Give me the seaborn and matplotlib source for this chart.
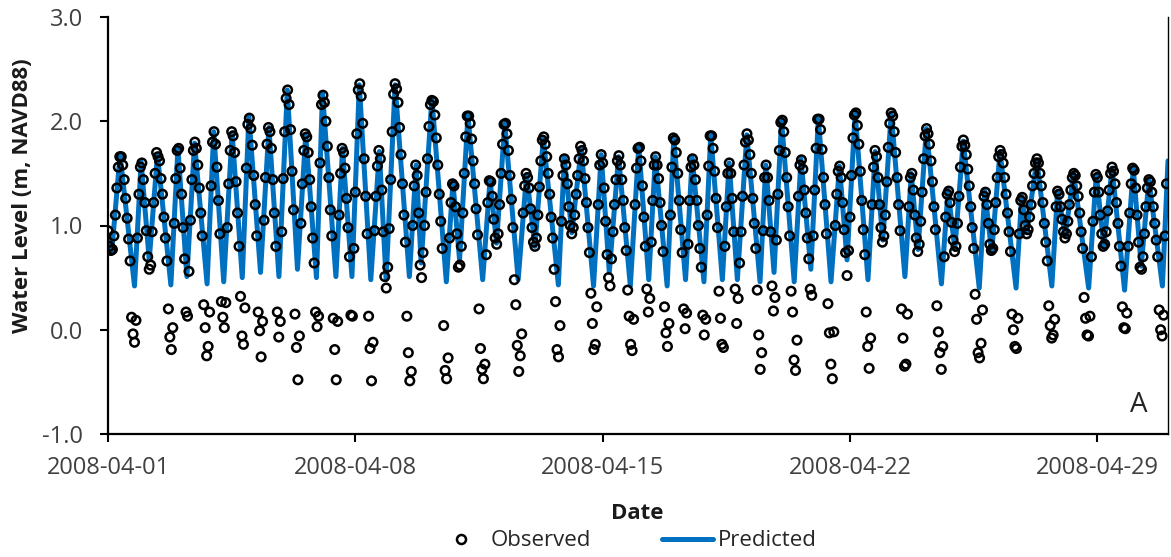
import numpy as np
import pandas as pd
import matplotlib
matplotlib.use('Agg')
import matplotlib.pyplot as plt
import matplotlib.dates as mdates
from matplotlib.ticker import FormatStrFormatter
from matplotlib.lines import Line2D
import seaborn as sns

start = pd.Timestamp('2008-04-01')

# predicted tide: turning points (hours since 2008-04-01 00:00, metres NAVD88)
pred_hours = [0, 2.5, 8.2, 18.0, 22.5, 28.0, 33.6, 42.7, 47.5, 53.6,
              58.8, 67.3, 71.8, 78.6, 84.3, 91.2, 95.7, 103.6, 109.3, 116.1,
              121.8, 128.7, 134.3, 141.6, 145.7, 154.8, 159.3, 165.7, 170.7, 178.5,
              184.3, 188.9, 195.0, 204.7, 209.3, 212.7, 220.0, 229.8, 234.3, 238.8,
              244.5, 254.5, 259.5, 263.9, 269.5, 278.6, 284.3, 290.0, 295.7, 305.9,
              310.0, 315.0, 321.4, 329.8, 335.0, 340.5, 346.8, 354.8, 360.5, 367.3,
              371.8, 379.8, 384.3, 392.3, 396.8, 404.8, 409.4, 417.3, 421.9, 427.5,
              433.9, 442.9, 446.8, 452.4, 457.5, 466.1, 470.7, 477.4, 482.5, 491.1,
              496.8, 502.0, 507.5, 516.2, 521.1, 526.3, 532.0, 541.3, 545.6, 550.2,
              555.9, 566.1, 570.6, 575.2, 580.9, 591.8, 595.6, 600.2, 605.9, 616.8,
              620.6, 624.0, 630.9, 641.1, 645.0, 650.2, 655.9, 666.1, 671.3, 676.4,
              682.0, 690.5, 696.4, 701.8, 707.0, 716.2, 720.0]
pred_level = [0.90, 0.74, 1.68, 0.42, 1.61, 0.67, 1.68, 0.43, 1.74, 0.51,
              1.79, 0.44, 1.90, 0.46, 1.89, 0.50, 2.05, 0.55, 1.94, 0.51,
              2.30, 0.58, 1.87, 0.50, 2.27, 0.51, 1.74, 0.51, 2.35, 0.48,
              1.71, 0.48, 2.35, 0.51, 1.58, 0.64, 2.22, 0.46, 1.41, 0.67,
              2.06, 0.48, 1.44, 0.83, 1.98, 0.48, 1.49, 0.80, 1.84, 0.43,
              1.65, 0.93, 1.74, 0.42, 1.68, 0.55, 1.66, 0.42, 1.76, 0.48,
              1.66, 0.42, 1.84, 0.48, 1.65, 0.46, 1.87, 0.48, 1.60, 0.48,
              1.87, 0.46, 1.58, 0.55, 2.01, 0.46, 1.64, 0.58, 2.03, 0.46,
              1.57, 0.67, 2.08, 0.48, 1.71, 0.86, 2.08, 0.51, 1.50, 0.77,
              1.93, 0.44, 1.34, 0.77, 1.81, 0.40, 1.33, 0.74, 1.71, 0.40,
              1.28, 0.93, 1.63, 0.42, 1.33, 0.90, 1.50, 0.40, 1.49, 0.80,
              1.55, 0.38, 1.55, 0.61, 1.44, 0.42, 1.62]

# observed water level, hourly, one row per day (Apr 1 .. Apr 30)
obs_by_day = [
    [0.95, 0.80, 0.76, 0.77, 0.90, 1.10, 1.36, 1.56, 1.66, 1.66, 1.58, 1.44, 1.26, 1.07, 0.87, 0.66, 0.12, -0.04, -0.12, 0.09, 0.88, 1.30, 1.56, 1.60],
    [1.44, 1.22, 0.95, 0.70, 0.58, 0.62, 0.94, 1.22, 1.50, 1.70, 1.66, 1.62, 1.45, 1.30, 1.08, 0.88, 0.66, 0.20, -0.07, -0.19, 0.02, 1.02, 1.45, 1.72],
    [1.74, 1.55, 1.30, 0.98, 0.68, 0.17, 0.13, 0.56, 1.05, 1.44, 1.72, 1.80, 1.74, 1.58, 1.36, 1.12, 0.90, 0.24, 0.02, -0.25, -0.16, 0.17, 1.38, 1.80],
    [1.90, 1.78, 1.56, 1.24, 0.92, 0.27, 0.12, 0.02, 0.26, 0.98, 1.40, 1.72, 1.90, 1.86, 1.70, 1.42, 1.12, 0.80, 0.32, -0.06, -0.14, 0.21, 1.55, 1.97],
    [2.03, 1.93, 1.77, 1.48, 1.20, 0.90, 0.17, -0.01, -0.26, 0.08, 1.05, 1.46, 1.78, 1.94, 1.90, 1.74, 1.44, 1.12, 0.80, 0.17, -0.07, 0.08, 0.94, 1.45],
    [1.90, 2.22, 2.30, 2.16, 1.92, 1.52, 1.15, 0.15, -0.17, -0.48, -0.06, 1.02, 1.40, 1.72, 1.88, 1.85, 1.70, 1.44, 1.18, 0.88, 0.64, 0.17, 0.03, 0.13],
    [1.60, 2.16, 2.25, 2.18, 2.00, 1.76, 1.46, 1.15, 0.90, 0.11, -0.19, -0.48, 0.08, 1.10, 1.50, 1.74, 1.70, 1.55, 1.26, 0.98, 0.70, 0.14, 0.13, 0.78],
    [1.32, 1.88, 2.30, 2.36, 2.24, 1.98, 1.64, 1.28, 0.92, 0.13, -0.18, -0.49, -0.12, 0.95, 1.28, 1.57, 1.72, 1.64, 1.34, 0.94, 0.51, 0.40, 0.60, 0.97],
    [1.44, 1.90, 2.26, 2.36, 2.31, 2.18, 1.94, 1.68, 1.40, 1.10, 0.84, 0.13, -0.22, -0.49, -0.40, 1.00, 1.38, 1.58, 1.48, 1.12, 0.62, 0.50, 0.74, 1.00],
    [1.32, 1.64, 1.95, 2.16, 2.20, 2.19, 2.06, 1.84, 1.58, 1.30, 1.04, 0.78, 0.04, -0.39, -0.47, -0.27, 0.88, 1.22, 1.40, 1.38, 1.18, 0.92, 0.60, 0.62],
    [0.80, 1.12, 1.50, 1.85, 2.05, 2.05, 1.98, 1.83, 1.62, 1.40, 1.16, 0.91, 0.20, -0.18, -0.38, -0.47, -0.33, 0.72, 1.22, 1.43, 1.42, 1.28, 1.06, 0.88],
    [0.82, 0.92, 1.20, 1.50, 1.78, 1.97, 1.98, 1.88, 1.72, 1.48, 1.25, 0.98, 0.48, 0.24, -0.15, -0.40, -0.25, -0.04, 1.12, 1.38, 1.50, 1.46, 1.36, 1.16],
    [0.98, 0.84, 0.80, 0.88, 1.10, 1.37, 1.62, 1.82, 1.85, 1.78, 1.66, 1.50, 1.30, 1.08, 0.88, 0.58, 0.27, -0.19, -0.26, 0.04, 1.04, 1.48, 1.64, 1.58],
    [1.40, 1.18, 1.00, 0.92, 0.98, 1.10, 1.30, 1.48, 1.64, 1.76, 1.72, 1.62, 1.45, 1.22, 0.98, 0.74, 0.35, 0.06, -0.19, -0.14, 0.22, 1.20, 1.58, 1.68],
    [1.60, 1.36, 1.04, 0.72, 0.50, 0.42, 0.68, 0.94, 1.20, 1.44, 1.62, 1.67, 1.58, 1.44, 1.24, 0.98, 0.76, 0.38, 0.13, -0.14, -0.20, 0.10, 1.20, 1.55],
    [1.74, 1.75, 1.62, 1.38, 1.08, 0.80, 0.39, 0.17, 0.30, 0.84, 1.24, 1.58, 1.66, 1.58, 1.45, 1.22, 1.00, 0.75, 0.22, -0.03, -0.16, 0.06, 1.10, 1.56],
    [1.84, 1.82, 1.70, 1.50, 1.24, 0.96, 0.74, 0.20, 0.01, 0.16, 0.82, 1.24, 1.56, 1.64, 1.58, 1.44, 1.24, 1.00, 0.78, 0.60, 0.14, -0.05, 0.10, 1.10],
    [1.57, 1.86, 1.86, 1.74, 1.52, 1.26, 0.98, 0.37, 0.11, -0.14, -0.17, 0.80, 1.18, 1.50, 1.60, 1.50, 1.26, 0.94, 0.39, 0.06, 0.30, 0.64, 0.94, 1.28],
    [1.58, 1.80, 1.88, 1.82, 1.68, 1.50, 1.26, 1.02, 0.78, 0.38, -0.05, -0.38, -0.22, 0.95, 1.46, 1.58, 1.46, 1.24, 0.94, 0.42, 0.18, 0.31, 0.86, 1.30],
    [1.72, 1.99, 2.01, 1.90, 1.70, 1.46, 1.18, 0.90, 0.37, 0.17, -0.29, -0.39, -0.10, 1.28, 1.58, 1.63, 1.54, 1.34, 1.12, 0.88, 0.68, 0.39, 0.33, 0.90],
    [1.34, 1.74, 2.02, 2.02, 1.92, 1.73, 1.46, 1.20, 0.92, 0.25, -0.03, -0.33, -0.47, -0.02, 1.00, 1.30, 1.52, 1.57, 1.46, 1.22, 0.96, 0.74, 0.52, 0.76],
    [1.08, 1.48, 1.84, 2.06, 2.08, 1.96, 1.78, 1.52, 1.24, 0.96, 0.72, 0.17, -0.16, -0.37, -0.08, 1.20, 1.56, 1.72, 1.66, 1.46, 1.20, 0.98, 0.84, 0.90],
    [1.10, 1.42, 1.75, 1.98, 2.08, 2.05, 1.90, 1.70, 1.46, 1.20, 0.95, 0.20, -0.08, -0.35, -0.33, 0.15, 1.18, 1.46, 1.50, 1.34, 1.10, 0.88, 0.75, 0.82],
    [1.04, 1.32, 1.64, 1.86, 1.93, 1.88, 1.78, 1.62, 1.42, 1.18, 0.96, 0.23, -0.02, -0.22, -0.38, -0.16, 0.70, 1.08, 1.30, 1.33, 1.22, 1.03, 0.86, 0.75],
    [0.80, 1.02, 1.28, 1.56, 1.76, 1.82, 1.77, 1.68, 1.54, 1.38, 1.18, 0.98, 0.78, 0.34, 0.10, -0.22, -0.27, -0.13, 0.19, 1.28, 1.32, 1.20, 1.02, 0.82],
    [0.76, 0.78, 0.96, 1.22, 1.46, 1.66, 1.72, 1.68, 1.60, 1.46, 1.30, 1.12, 0.94, 0.75, 0.15, 0.00, -0.16, -0.18, 0.11, 0.92, 1.24, 1.27, 1.15, 1.00],
    [0.92, 0.96, 1.08, 1.20, 1.38, 1.50, 1.60, 1.64, 1.60, 1.50, 1.38, 1.22, 1.02, 0.84, 0.66, 0.23, 0.04, -0.08, -0.05, 0.10, 1.18, 1.33, 1.30, 1.18],
    [1.06, 0.94, 0.88, 0.92, 1.04, 1.20, 1.34, 1.46, 1.50, 1.48, 1.38, 1.28, 1.12, 0.94, 0.78, 0.31, 0.11, -0.05, -0.06, 0.13, 0.70, 1.04, 1.32, 1.49],
    [1.46, 1.32, 1.10, 0.92, 0.80, 0.82, 0.94, 1.14, 1.34, 1.50, 1.56, 1.52, 1.40, 1.22, 1.02, 0.80, 0.61, 0.22, 0.02, 0.01, 0.16, 0.80, 1.12, 1.40],
    [1.55, 1.53, 1.36, 1.10, 0.84, 0.60, 0.58, 0.70, 0.92, 1.18, 1.36, 1.44, 1.42, 1.32, 1.18, 1.02, 0.86, 0.70, 0.19, 0.00, -0.06, 0.14, 0.90, 1.40],
]

tick_dates = ['2008-04-01', '2008-04-08', '2008-04-15', '2008-04-22', '2008-04-29']
y_ticks = [-1.0, 0.0, 1.0, 2.0, 3.0]

pred = pd.DataFrame({'time': start + pd.to_timedelta(pred_hours, unit='h'),
                     'level': pred_level})
obs_level = [v for day in obs_by_day for v in day]
obs = pd.DataFrame({'time': start + pd.to_timedelta(np.arange(len(obs_level)), unit='h'),
                    'level': obs_level})

sns.set_style('white')
plt.rcParams['font.family'] = ['Open Sans', 'DejaVu Sans']

blue = '#0070C0'
fig = plt.figure(figsize=(11.71, 5.57), dpi=100)
ax = fig.add_axes([108 / 1171, 1 - 434 / 557, 1060 / 1171, 417 / 557])

sns.lineplot(data=pred, x='time', y='level', ax=ax, color=blue, linewidth=3.6,
             legend=False, zorder=2)
sns.scatterplot(data=obs, x='time', y='level', ax=ax, marker='o', s=38,
                facecolors='none', edgecolors='black', linewidths=1.8,
                legend=False, zorder=3)

ax.set_xlim(start, start + pd.Timedelta(days=30))
ax.set_ylim(-1, 3)
ax.set_yticks(y_ticks)
ax.yaxis.set_major_formatter(FormatStrFormatter('%.1f'))
ax.set_xticks(pd.to_datetime(tick_dates))
ax.xaxis.set_major_formatter(mdates.DateFormatter('%Y-%m-%d'))

ax.tick_params(axis='both', direction='out', length=6, width=1.5, color='black',
               labelcolor='#404040', labelsize=17, left=True, bottom=True)
ax.tick_params(axis='y', pad=12)
ax.tick_params(axis='x', pad=10)

for side in ['left', 'bottom']:
    ax.spines[side].set_color('black')
    ax.spines[side].set_linewidth(1.6)
ax.spines['top'].set_visible(False)
ax.spines['right'].set_color('black')
ax.spines['right'].set_linewidth(1.0)

ax.set_xlabel('Date', fontsize=16, fontweight='bold', color='#1a1a1a')
ax.xaxis.set_label_coords(0.499, -0.165)
ax.set_ylabel('Water Level (m, NAVD88)', fontsize=16, fontweight='bold', color='#1a1a1a')
ax.yaxis.set_label_coords(-0.071, 0.571)

ax.text(0.972, 0.07, 'A', transform=ax.transAxes, fontsize=20, ha='center', va='center')

handles = [Line2D([], [], marker='o', ls='none', mfc='none', mec='black', mew=1.8, ms=6.5),
           Line2D([], [], color=blue, lw=3.6)]
fig.legend(handles, ['Observed', 'Predicted'], loc='center',
           bbox_to_anchor=(626 / 1171, 1 - 541 / 557), ncol=2, frameon=False,
           fontsize=16, handlelength=2.3, handletextpad=0.2, columnspacing=3.2)

fig.savefig('out.png', dpi=100, facecolor='white')
